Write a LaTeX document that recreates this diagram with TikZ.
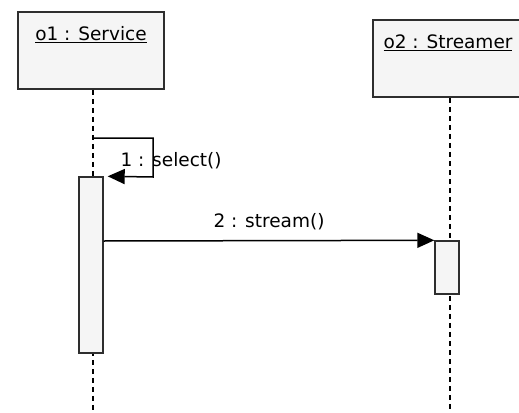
\documentclass[tikz,border=0pt]{standalone}
\usepackage{fontspec}
\setmainfont{DejaVu Sans}
\usetikzlibrary{arrows.meta}
\definecolor{boxedge}{HTML}{2E2E2E}
\definecolor{boxfill}{HTML}{F5F5F5}
\begin{document}
\begin{tikzpicture}
[x=1pt,y=-1pt,font=\fontsize{18.5}{21}\selectfont,
  objdecorate/.style={shape=rectangle,inner sep=0pt,draw=boxedge,fill=boxfill,
    line width=1.6pt,minimum height=77pt},%
  activedecorate/.style={shape=rectangle,inner sep=0pt,draw=boxedge,fill=boxfill,
    line width=1.4pt,minimum width=24pt},%
  lifedecorate/.style={line width=2pt,dash pattern=on 5pt off 4pt},%
  msgdecorate/.style={-{Triangle[length=17pt,width=15pt]},line width=1.5pt}]
\useasboundingbox (0,0) rectangle (519,412);
%% objects and their lifelines
\foreach \nodename/\x/\y/\w/\objtext in {o1/91/50.5/146/o1 : Service,
  o2/448/58.5/150/o2 : Streamer}
{
  \node (\nodename) at (\x,\y) [objdecorate,minimum width=\w pt] {};
  \node (\nodename text) [anchor=base] at ([yshift=-29pt]\nodename.north)
    {\underline{\objtext}};
  \draw[lifedecorate] ([xshift=1.5pt]\nodename.south) -- ([xshift=1.5pt]\nodename.south |- 0,412);
}
%% activation bars
\foreach \nodename/\x/\y/\h in {a1/91/265/176, a2/447/267.5/53}
{
  \node (\nodename) at (\x,\y) [activedecorate,minimum height=\h pt] {};
}
%% messages
\coordinate (s1) at (93,138);
\coordinate (s2) at (153,177);
\draw[msgdecorate] (s1) -| (s2) -- ([xshift=4pt]a1.north east);
\node (l1) [anchor=base west] at (117,166) {1 : select()};
\draw[msgdecorate] (a1.east |- 0,241) -- (a2.north west)
  node (l2) [midway,above=7pt] {2 : stream()};
\end{tikzpicture}
\end{document}
